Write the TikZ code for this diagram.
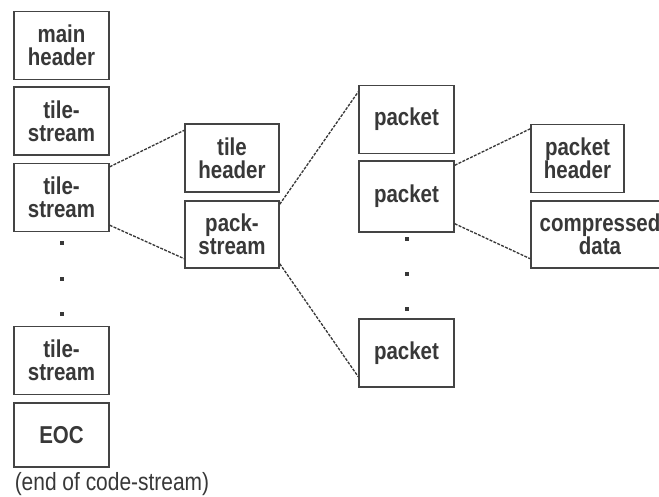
\documentclass[tikz,border=0pt]{standalone}
\usepackage{fontspec}
\setmainfont{Liberation Sans}[FakeStretch=0.84]
\definecolor{ink}{HTML}{383838}
\definecolor{frame}{HTML}{444444}
\begin{document}
\begin{tikzpicture}[x=0.75pt,y=-0.75pt,
  blk/.style={draw=frame,line width=1.1pt,fill=white,align=center,inner sep=0pt,
    text=ink,font=\fontsize{18.3}{17.3}\selectfont\bfseries,
    minimum width=71.25pt,minimum height=51pt},
  link/.style={draw=ink,line width=1pt,dash pattern=on 2.2pt off 1pt},
  dot/.style={fill=ink,inner sep=0pt,minimum size=2.4pt}]
\useasboundingbox (0,0) rectangle (659,496);
\clip (0,0) rectangle (659,496);
% code-stream column
\node[blk] (mh)  at (61.5,45.5)  {main\\header};
\node[blk] (ts1) at (61.5,121)   {tile-\\stream};
\node[blk] (ts2) at (61.5,197.5) {tile-\\stream};
\node[dot] (d1) at (62,243) {};
\node[dot] (d2) at (62,279) {};
\node[dot] (d3) at (62,314) {};
\node[blk] (ts3) at (61.5,360.5) {tile-\\stream};
\node[blk,minimum height=48pt] (eoc) at (61.5,435) {EOC};
\node[anchor=west,inner sep=0pt,text=ink,font=\fontsize{18.7}{18.7}\selectfont] (cap) at (14.5,484) {(end of code-stream)};
% tile-stream column
\node[blk,minimum width=70.5pt] (th) at (232,158)   {tile\\header};
\node[blk,minimum width=70.5pt,minimum height=50.25pt] (ps) at (232,234.5) {pack-\\stream};
% pack-stream column
\node[blk] (pk1) at (406.5,119.5) {packet};
\node[blk,minimum height=53.25pt] (pk2) at (406.5,196.5) {packet};
\node[dot] (e1) at (407,239) {};
\node[dot] (e2) at (407,274) {};
\node[dot] (e3) at (407,309) {};
\node[blk] (pk3) at (406.5,353) {packet};
% packet column
\node[blk,minimum width=69.75pt] (ph) at (577.5,158.5) {packet\\header};
\node[blk,minimum width=103.5pt,minimum height=50.25pt] (cd) at (600,234.5) {compressed\\data};
% expansion links
\draw[link] ([yshift=-3pt]ts2.north east) -- ([yshift=-5.25pt]th.north west);
\draw[link] ([yshift=5.25pt]ts2.south east) -- ([yshift=7.5pt]ps.south west);
\draw[link] ([yshift=-3pt]ps.north east) -- ([yshift=-5.25pt]pk1.north west);
\draw[link] ([yshift=3.75pt]ps.south east) -- ([yshift=8.25pt]pk3.south west);
\draw[link] ([yshift=-3.75pt]pk2.north east) -- ([yshift=-3.75pt]ph.north west);
\draw[link] ([yshift=6.75pt]pk2.south east) -- ([yshift=7.5pt]cd.south west);
\end{tikzpicture}
\end{document}
